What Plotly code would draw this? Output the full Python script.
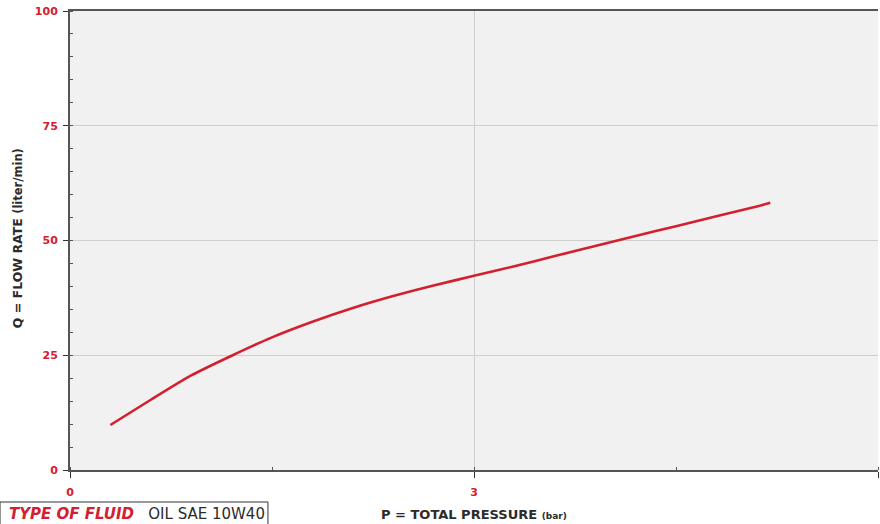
import plotly.graph_objects as go

pressure_bar = [0.3, 0.6, 0.9, 1.2, 1.5, 1.8, 2.1, 2.4, 2.7, 3.0, 3.3, 3.6, 3.9, 4.2, 4.5, 4.8, 5.1, 5.2]
flow_lpm = [9.8, 15.3, 20.6, 24.9, 28.9, 32.3, 35.3, 37.9, 40.2, 42.3, 44.4, 46.6, 48.8, 51.0, 53.1, 55.3, 57.4, 58.2]

x_ticks = [0, 3, 6]
y_ticks = [0, 25, 50, 75, 100]

RED = "#d3202f"
DARK = "#2b2b2b"
FONT = "DejaVu Sans"

fig = go.Figure()
fig.add_trace(go.Scatter(x=pressure_bar, y=flow_lpm, mode="lines",
                         line=dict(color=RED, width=2.6, shape="spline", smoothing=0.6),
                         hoverinfo="skip"))

fig.update_layout(
    width=880, height=524,
    margin=dict(l=70, r=2, t=11, b=54),
    paper_bgcolor="white", plot_bgcolor="#f1f1f1",
    showlegend=False,
    font=dict(family=FONT, color=DARK),
    xaxis=dict(range=[0, 6], tickvals=x_ticks, ticktext=[str(v) for v in x_ticks],
               showgrid=True, gridcolor="#cfcfcf", gridwidth=1,
               showline=True, linecolor="#555555", linewidth=2, mirror=True,
               ticks="outside", ticklen=6, tickcolor="#333333", tickwidth=1,
               ticklabelstandoff=5,
               minor=dict(dtick=1.5, ticks="inside", ticklen=3, tickcolor="#555555", showgrid=False),
               tickfont=dict(family=FONT, size=11, color=RED, weight="bold"),
               zeroline=False, fixedrange=True),
    yaxis=dict(range=[0, 100], tickvals=y_ticks, ticktext=[str(v) for v in y_ticks],
               showgrid=True, gridcolor="#cfcfcf", gridwidth=1,
               showline=True, linecolor="#555555", linewidth=2, mirror=False,
               ticks="outside", ticklen=5, tickcolor="#333333", tickwidth=1,
               ticklabelstandoff=3,
               minor=dict(dtick=5, ticks="inside", ticklen=3, tickcolor="#555555", showgrid=False),
               tickfont=dict(family=FONT, size=11, color=RED, weight="bold"),
               zeroline=False, fixedrange=True),
)

# axis titles
fig.add_annotation(text="Q = FLOW RATE <span style='font-size:11.5px'>(liter/min)</span>",
                   xref="paper", yref="paper", x=-0.0656, y=0.505, xanchor="center", yanchor="middle",
                   textangle=-90, showarrow=False,
                   font=dict(family=FONT, size=12.5, color=DARK, weight="bold"))
fig.add_annotation(text="P = TOTAL PRESSURE <span style='font-size:9px'>(bar)</span>",
                   xref="paper", yref="paper", x=0.5, y=-0.098, xanchor="center", yanchor="middle",
                   showarrow=False,
                   font=dict(family=FONT, size=13, color=DARK, weight="bold"))

# fluid type box
fig.add_shape(type="rect", xref="paper", yref="paper",
              x0=-0.0866, x1=0.245, y0=-0.14, y1=-0.0697,
              line=dict(color="#333333", width=1), fillcolor="white", layer="above")
fig.add_annotation(text="<i><b><span style='color:%s'>TYPE OF FLUID</span></b></i>&nbsp;&nbsp; OIL SAE 10W40" % RED,
                   xref="paper", yref="paper", x=-0.078, y=-0.095, xanchor="left", yanchor="middle",
                   showarrow=False,
                   font=dict(family=FONT, size=15, color=DARK))

fig.write_html("out.html", config={"displayModeBar": False},
               post_script="document.body.style.margin='0';document.body.style.overflow='hidden';")
